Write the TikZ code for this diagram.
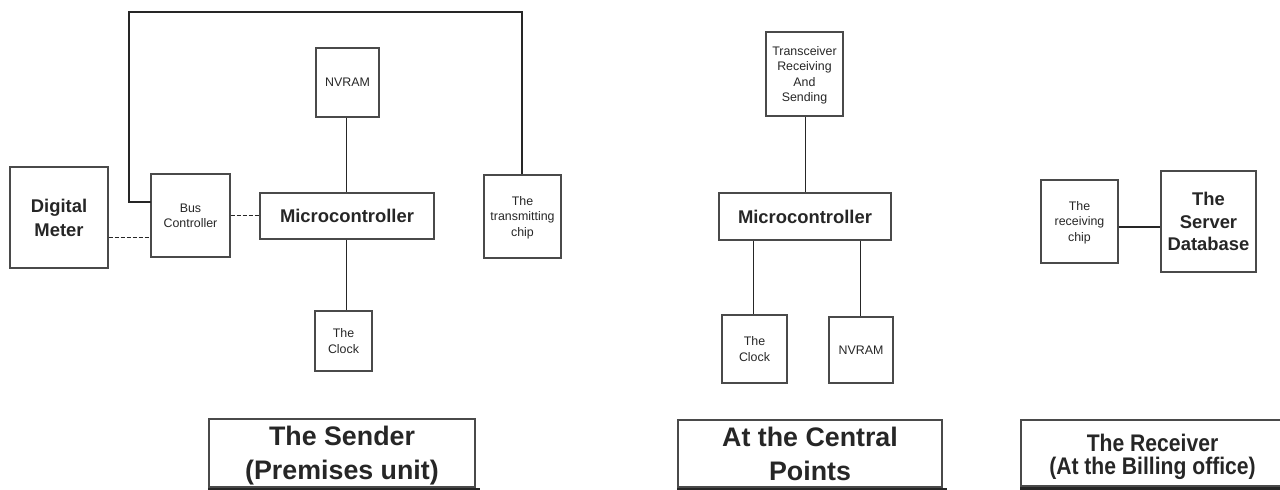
\documentclass[tikz,border=0pt]{standalone}
\usepackage{fontspec}
\setmainfont{Liberation Sans}
\newfontfamily\narrowsans[FakeStretch=0.88]{Liberation Sans}
\usetikzlibrary{fit}
\definecolor{ink}{HTML}{262626}
\definecolor{edge}{HTML}{4A4A4A}
% centred block of #1 lines: first baseline placed so the glyphs are centred on the node
\newcommand{\bxt}[2]{\raisebox{\dimexpr\baselineskip*(#1-1)/2-0.358em\relax}[0pt][0pt]{\begin{tabular}[t]{@{}c@{}}#2\end{tabular}}}
\tikzset{
  x=0.5pt, y=-0.5pt,
  box/.style={draw=edge, line width=0.55pt, inner sep=0pt, text=ink},
  small/.style={font=\fontsize{6.2pt}{7.8pt}\selectfont},
  big/.style={font=\bfseries\fontsize{9.2pt}{12pt}\selectfont},
  lbl/.style={draw=edge, line width=0.55pt, inner sep=0pt, text=ink,
     font=\bfseries\fontsize{13.4pt}{17pt}\selectfont},
  lblsmall/.style={font=\narrowsans\bfseries\fontsize{12pt}{10pt}\selectfont},
  wire/.style={draw=ink, line width=0.5pt},
  dwire/.style={draw=ink, line width=0.5pt, dash pattern=on 2pt off 1pt},
  thick wire/.style={draw=ink, line width=0.9pt},
  shadowline/.style={draw=ink, line width=1.1pt},
}
\begin{document}
\begin{tikzpicture}
\useasboundingbox (0,0) rectangle (1280,490);

% ---------- The Sender ----------
\node[box, big, fit={(10,167) (108,268)}] (dm) {\bxt{2}{Digital\\Meter}};
\node[box, small, fit={(151,174) (230,257)}] (bus) {\bxt{2}{Bus\\Controller}};
\node[box, big, fit={(260,193) (434,239)}] (mc1) {\bxt{1}{Microcontroller}};
\node[box, small, fit={(316,48) (379,117)}] (nv1) {\bxt{1}{NVRAM}};
\node[box, small, fit={(315,311) (372,371)}] (clk1) {\bxt{2}{The\\Clock}};
\node[box, small, fit={(484,175) (561,258)}] (tx) {\bxt{3}{The\\transmitting\\chip}};
\node[lbl, fit={(209,419) (475,487)}] (lab1) {\bxt{2}{The Sender\\(Premises unit)}};

\coordinate (busin) at (151,202);
\coordinate (tl) at (129,12);
\coordinate (tr) at (522,12);
\draw[thick wire] (busin) -- (busin -| tl) -- (tl) -- (tr) -- (tr |- tx.north);
\draw[dwire] (dm.east |- 0,238) -- (bus.west |- 0,238);
\draw[dwire] (bus.east |- 0,216) -- (mc1.west |- 0,216);
\draw[wire] (nv1.south -| 346,0) -- (mc1.north -| 346,0);
\draw[wire] (mc1.south -| 346,0) -- (clk1.north -| 346,0);
\draw[shadowline] ([yshift=-1pt]lab1.south west) -- ([xshift=2pt,yshift=-1pt]lab1.south east);

% ---------- At the Central Points ----------
\node[box, small, fit={(766,32) (843,116)}] (trx) {\bxt{4}{Transceiver\\Receiving\\And\\Sending}};
\node[box, big, fit={(719,193) (891,240)}] (mc2) {\bxt{1}{Microcontroller}};
\node[box, small, fit={(722,315) (787,383)}] (clk2) {\bxt{2}{The\\Clock}};
\node[box, small, fit={(829,317) (893,383)}] (nv2) {\bxt{1}{NVRAM}};
\node[lbl, fit={(678,420) (942,487)}] (lab2) {\bxt{2}{At the Central\\Points}};

\draw[wire] (trx.south -| 805,0) -- (mc2.north -| 805,0);
\draw[wire] (mc2.south -| 753,0) -- (clk2.north -| 753,0);
\draw[wire] (mc2.south -| 860,0) -- (nv2.north -| 860,0);
\draw[shadowline] ([yshift=-1pt]lab2.south west) -- ([xshift=2pt,yshift=-1pt]lab2.south east);

% ---------- The Receiver ----------
\node[box, small, fit={(1041,180) (1118,263)}] (rc) {\bxt{3}{The\\receiving\\chip}};
\node[box, fit={(1161,171) (1256,272)}, font=\bfseries\fontsize{9.2pt}{11.3pt}\selectfont] (db) {\bxt{3}{The\\Server\\Database}};
\node[lbl, lblsmall, fit={(1021,420) (1284,486)}] (lab3) {\bxt{2}{The Receiver\\(At the Billing office)}};

\draw[thick wire] (rc.east |- 0,227) -- (db.west |- 0,227);
\draw[shadowline] ([yshift=-1pt]lab3.south west) -- ([yshift=-1pt]lab3.south east);
\end{tikzpicture}
\end{document}
